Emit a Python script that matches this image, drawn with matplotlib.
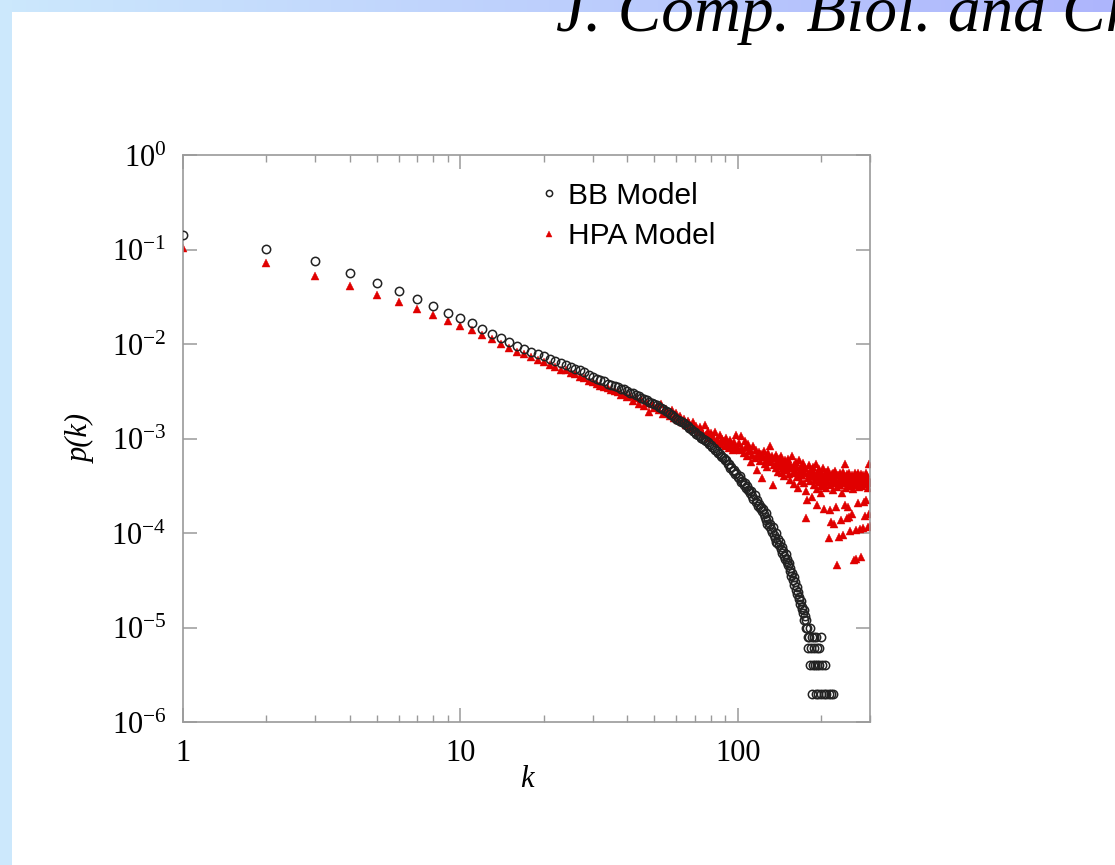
import numpy as np
import matplotlib
matplotlib.use("Agg")
import matplotlib.pyplot as plt
from matplotlib.ticker import FixedLocator, NullFormatter, LogLocator

plt.rcParams["mathtext.fontset"] = "custom"
plt.rcParams["mathtext.rm"] = "Liberation Serif"
plt.rcParams["mathtext.it"] = "Liberation Serif:italic"

# degree k and log10 p(k)
bb_k = list(range(1, 176)) + [176, 177, 178, 179, 180, 181, 182, 183, 184, 185,
                              186, 187, 188, 189, 190, 191, 192, 193, 194, 195,
                              196, 197, 199, 200, 202, 204, 206, 209, 213, 217, 221]
bb_logp = [
    -0.85, -0.99, -1.12, -1.25, -1.35, -1.44, -1.52, -1.60, -1.67, -1.73,
    -1.78, -1.84, -1.89, -1.94, -1.98, -2.02, -2.05, -2.08, -2.11, -2.13,
    -2.16, -2.18, -2.20, -2.22, -2.24, -2.26, -2.28, -2.30, -2.33, -2.35,
    -2.37, -2.38, -2.39, -2.42, -2.43, -2.44, -2.45, -2.48, -2.48, -2.50,
    -2.52, -2.52, -2.54, -2.55, -2.57, -2.58, -2.59, -2.61, -2.62, -2.64,
    -2.65, -2.67, -2.68, -2.69, -2.71, -2.72, -2.74, -2.75, -2.77, -2.79,
    -2.80, -2.81, -2.83, -2.84, -2.86, -2.87, -2.89, -2.90, -2.92, -2.93,
    -2.95, -2.96, -2.97, -2.99, -3.00, -3.02, -3.03, -3.04, -3.06, -3.07,
    -3.09, -3.10, -3.12, -3.13, -3.15, -3.16, -3.18, -3.20, -3.21, -3.23,
    -3.23, -3.27, -3.27, -3.31, -3.30, -3.34, -3.33, -3.38, -3.36, -3.41,
    -3.42, -3.40, -3.46, -3.45, -3.49, -3.47, -3.52, -3.50, -3.55, -3.54,
    -3.58, -3.56, -3.61, -3.64, -3.60, -3.67, -3.65, -3.71, -3.69, -3.74,
    -3.72, -3.77, -3.75, -3.80, -3.83, -3.79, -3.86, -3.90, -3.85, -3.93,
    -3.90, -3.96, -3.99, -3.94, -4.02, -4.05, -4.00, -4.09, -4.11, -4.06,
    -4.13, -4.10, -4.17, -4.15, -4.21, -4.19, -4.24, -4.28, -4.22, -4.31,
    -4.28, -4.34, -4.32, -4.40, -4.37, -4.45, -4.42, -4.50, -4.47, -4.55,
    -4.52, -4.60, -4.57, -4.65, -4.62, -4.70, -4.68, -4.75, -4.72, -4.80,
    -4.78, -4.85, -4.82, -4.92, -4.88,
    -5.000, -4.921, -5.000, -5.097, -5.222, -5.097, -5.398, -5.000, -5.222, -5.097,
    -5.699, -5.398, -5.222, -5.097, -5.398, -5.699, -5.097, -5.222, -5.398, -5.699,
    -5.222, -5.398, -5.097, -5.699, -5.398, -5.699, -5.398, -5.699, -5.699, -5.699, -5.699,
]

hpa_k = list(range(1, 301))
hpa_logp = [
    -0.98, -1.14, -1.28, -1.39, -1.48, -1.56, -1.63, -1.69, -1.76, -1.81,
    -1.85, -1.91, -1.95, -2.00, -2.04, -2.08, -2.11, -2.14, -2.17, -2.19,
    -2.22, -2.24, -2.27, -2.28, -2.31, -2.32, -2.35, -2.36, -2.39, -2.40,
    -2.42, -2.44, -2.45, -2.47, -2.49, -2.50, -2.51, -2.54, -2.53, -2.56,
    -2.55, -2.60, -2.57, -2.63, -2.58, -2.66, -2.62, -2.72, -2.63, -2.68,
    -2.66, -2.70, -2.64, -2.74, -2.69, -2.72, -2.76, -2.70, -2.78, -2.73,
    -2.80, -2.76, -2.83, -2.79, -2.86, -2.81, -2.84, -2.89, -2.83, -2.90,
    -2.87, -2.93, -2.88, -2.91, -2.95, -2.86, -2.96, -2.92, -2.99, -2.94,
    -2.97, -3.02, -2.93, -3.00, -3.04, -2.96, -3.06, -3.01, -3.03, -3.08,
    -2.99, -3.05, -3.10, -3.02, -3.07, -3.12, -3.04, -3.09, -2.96, -3.11,
    -3.05, -3.12, -2.97, -3.10, -3.15, -3.03, -3.09, -3.18, -3.06, -3.13,
    -3.11, -3.25, -3.17, -3.08, -3.21, -3.12, -3.33, -3.19, -3.14, -3.24,
    -3.16, -3.42, -3.20, -3.13, -3.27, -3.18, -3.23, -3.30, -3.15, -3.22,
    -3.08, -3.25, -3.19, -3.49, -3.28, -3.21, -3.31, -3.17, -3.26, -3.35,
    -3.22, -3.29, -3.18, -3.36, -3.25, -3.31, -3.40, -3.23, -3.33, -3.27,
    -3.30, -3.22, -3.38, -3.27, -3.44, -3.31, -3.19, -3.36, -3.48, -3.28,
    -3.34, -3.25, -3.41, -3.30, -3.52, -3.23, -3.37, -3.33, -3.45, -3.29,
    -3.39, -3.26, -3.47, -3.35, -3.31, -3.56, -3.84, -3.65, -3.36, -3.42,
    -3.28, -3.45, -3.38, -3.33, -3.62, -3.40, -3.30, -3.49, -3.36, -3.44,
    -3.27, -3.41, -3.53, -3.70, -3.35, -3.46, -3.32, -3.40, -3.50, -3.58,
    -3.37, -3.44, -3.31, -3.48, -3.75, -3.39, -3.43, -3.35, -3.52, -3.41,
    -3.46, -3.33, -4.05, -3.40, -3.49, -3.76, -3.88, -3.38, -3.45, -3.55,
    -3.36, -3.90, -3.42, -3.47, -3.34, -3.72, -3.44, -3.51, -4.34, -3.39,
    -4.04, -3.45, -3.37, -3.49, -3.86, -3.41, -3.58, -3.43, -4.02, -3.35,
    -3.47, -3.40, -3.27, -3.70, -3.44, -3.52, -3.38, -3.84, -3.46, -3.72,
    -3.41, -3.83, -3.36, -3.48, -3.98, -3.43, -3.50, -3.80, -3.39, -3.45,
    -3.53, -4.29, -3.42, -3.37, -3.47, -3.97, -3.44, -4.27, -3.40, -3.49,
    -3.36, -3.68, -3.45, -3.51, -3.96, -3.41, -3.47, -4.25, -3.38, -3.43,
    -3.50, -3.95, -3.44, -3.39, -3.67, -3.46, -3.41, -3.82, -3.48, -3.37,
    -3.65, -3.45, -3.40, -3.52, -3.94, -3.43, -3.27, -3.80, -3.47, -3.93,
]

x_ticks = [1, 10, 100]
x_labels = ["1", "10", "100"]
y_ticks = [1e0, 1e-1, 1e-2, 1e-3, 1e-4, 1e-5, 1e-6]
y_labels = [r"$10^{0}$", r"$10^{-1}$", r"$10^{-2}$", r"$10^{-3}$",
            r"$10^{-4}$", r"$10^{-5}$", r"$10^{-6}$"]

bb_p = 10.0 ** np.array(bb_logp)
hpa_p = 10.0 ** np.array(hpa_logp)

W, H = 1115, 865
fig = plt.figure(figsize=(W / 100, H / 100), dpi=100)

# slide background: light blue strip on the left and top
bg = fig.add_axes([0, 0, 1, 1], zorder=-5)
bg.set_xlim(0, W)
bg.set_ylim(H, 0)
bg.axis("off")
grad = np.linspace(0, 1, 256)
c0 = np.array([0.80, 0.91, 0.99])
c1 = np.array([0.68, 0.71, 0.99])
band = (c0[None, :] * (1 - grad[:, None]) + c1[None, :] * grad[:, None])[None, :, :]
bg.imshow(band, extent=(0, W, 12, 0), aspect="auto")
bg.add_patch(plt.Rectangle((0, 0), 12, H, color=c0, lw=0))
# slide header, cut off by the top/right edge as in the original
fig.text(556 / W, 1 - 31 / H, "J. Comp. Biol. and Chem.", family="Liberation Serif",
         style="italic", fontsize=47, va="baseline", ha="left")

ax = fig.add_axes([183 / W, 1 - 722 / H, (870 - 183) / W, (722 - 155) / H])
ax.set_xscale("log")
ax.set_yscale("log")

ax.plot(bb_k, bb_p, linestyle="none", marker="o", markersize=6.0,
        markerfacecolor="none", markeredgecolor="#222222", markeredgewidth=1.1,
        label="BB Model", zorder=3)
ax.plot(hpa_k, hpa_p, linestyle="none", marker="^", markersize=5.3,
        markerfacecolor="#e00000", markeredgecolor="#e00000", markeredgewidth=0.3,
        label="HPA Model", zorder=2)

ax.set_xlim(1, 300)
ax.set_ylim(1e-6, 1)

gray = "#9a9a9a"
for s in ax.spines.values():
    s.set_color(gray)
    s.set_linewidth(1.2)

ax.xaxis.set_major_locator(FixedLocator(x_ticks))
ax.set_xticklabels(x_labels)
ax.xaxis.set_minor_locator(LogLocator(base=10, subs=np.arange(2, 10)))
ax.xaxis.set_minor_formatter(NullFormatter())
ax.yaxis.set_major_locator(FixedLocator(y_ticks))
ax.set_yticklabels(y_labels)
ax.yaxis.set_minor_locator(FixedLocator([]))

ax.tick_params(which="major", direction="in", length=10, width=1.1, color=gray,
               top=True, right=True, labelsize=22, pad=12)
ax.tick_params(which="minor", direction="in", length=5, width=1.0, color=gray,
               top=True, right=True)
for lab in ax.get_xticklabels():
    lab.set_family("Liberation Serif")

ax.set_xlabel("k", family="Liberation Serif", style="italic", fontsize=22, labelpad=-2)
ax.set_ylabel("p(k)", family="Liberation Serif", style="italic", fontsize=22, labelpad=11)

ax.legend(loc="upper left", bbox_to_anchor=(528 / W, 1 - 170 / H),
          bbox_transform=fig.transFigure, frameon=False, borderaxespad=0,
          handlelength=0.6, handletextpad=0.35, markerscale=0.75, labelspacing=0.42,
          prop={"family": "Liberation Sans", "size": 21.5})

fig.savefig("out.png", dpi=100)
